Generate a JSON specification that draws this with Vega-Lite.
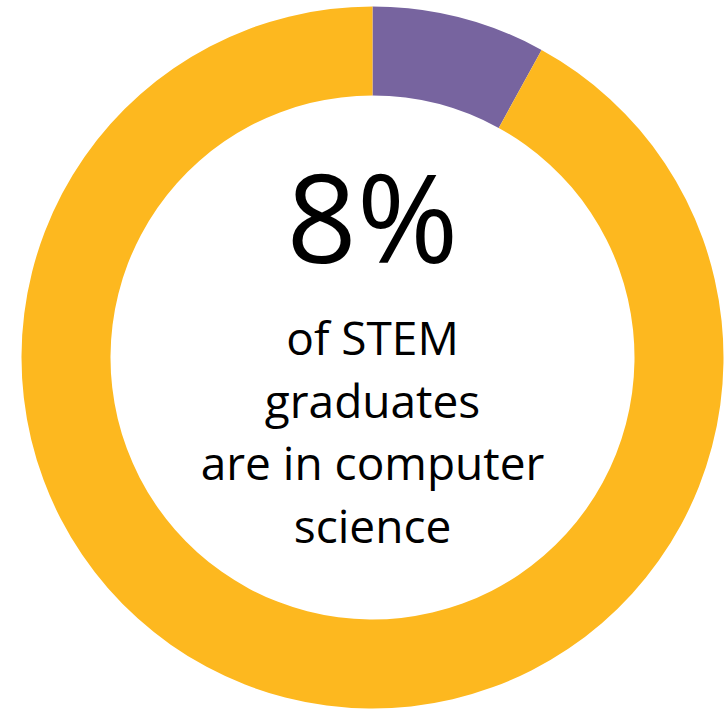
{
  "$schema": "https://vega.github.io/schema/vega-lite/v6.json",
  "autosize": {"type": "fit", "contains": "padding"},
  "width": 726,
  "height": 711,
  "padding": {"left": 19, "right": 0, "top": 4, "bottom": 0},
  "background": "#ffffff",
  "config": {"view": {"stroke": null}},
  "layer": [
    {
      "data": {"values": [
        {"category": "Computer science", "share": 8, "rank": 1},
        {"category": "Other STEM", "share": 92, "rank": 2}
      ]},
      "mark": {"type": "arc", "outerRadius": 351, "innerRadius": 262, "stroke": null},
      "encoding": {
        "theta": {"field": "share", "type": "quantitative", "stack": true},
        "order": {"field": "rank", "type": "quantitative"},
        "color": {
          "field": "category",
          "type": "nominal",
          "scale": {"domain": ["Computer science", "Other STEM"], "range": ["#77649F", "#FDB81F"]},
          "legend": null
        }
      }
    },
    {
      "data": {"values": [{"label": "8%"}]},
      "mark": {
        "type": "text",
        "x": {"expr": "width/2"},
        "y": {"expr": "height/2"},
        "dy": -94.5,
        "baseline": "alphabetic",
        "align": "center",
        "font": "Open Sans",
        "fontSize": 123,
        "color": "#000000"
      },
      "encoding": {"text": {"field": "label"}}
    },
    {
      "data": {"values": [{"label": "of STEM\ngraduates\nare in computer\nscience"}]},
      "mark": {
        "type": "text",
        "x": {"expr": "width/2"},
        "y": {"expr": "height/2"},
        "dy": -2.5,
        "baseline": "alphabetic",
        "align": "center",
        "font": "Open Sans",
        "fontSize": 46,
        "lineHeight": 62.5,
        "lineBreak": "\n",
        "color": "#000000"
      },
      "encoding": {"text": {"field": "label"}}
    }
  ]
}
